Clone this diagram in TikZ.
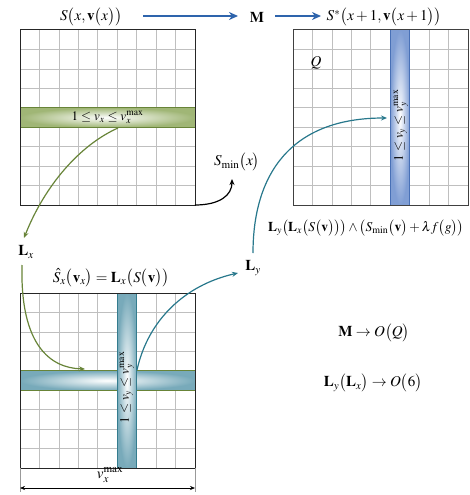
\documentclass[tikz,border=0pt]{standalone}
\usepackage{amsmath}
\usepackage{mathptmx}
\usetikzlibrary{arrows.meta}
\definecolor{gbord}{RGB}{104,132,56}
\definecolor{gfill}{RGB}{160,182,118}
\definecolor{bbord}{RGB}{72,112,182}
\definecolor{bfill}{RGB}{128,158,212}
\definecolor{tbord}{RGB}{52,124,142}
\definecolor{tfill}{RGB}{120,170,186}
\definecolor{arrblue}{RGB}{46,100,172}
\definecolor{arrgreen}{RGB}{104,132,56}
\definecolor{arrteal}{RGB}{40,120,140}
\tikzset{
  gridline/.style={draw=black!25, line width=0.7pt},
  frame/.style={draw=black!85, line width=1pt, minimum width=175pt, minimum height=175pt, inner sep=0pt, outer sep=0pt},
  lbl/.style={inner sep=0pt, font=\fontsize{15}{18}\selectfont},
  smalllbl/.style={inner sep=0pt, font=\fontsize{13}{16}\selectfont},
  hband/.style={minimum width=175pt, minimum height=19.44pt, inner sep=0pt, outer sep=0pt, line width=1pt},
  vband/.style={minimum width=19.44pt, minimum height=175pt, inner sep=0pt, outer sep=0pt, line width=1pt},
  greenband/.style={hband, draw=gbord, inner color=white, outer color=gfill},
  tealhband/.style={hband, draw=gbord, inner color=white, outer color=tfill},
  tealvband/.style={vband, draw=tbord, inner color=white, outer color=tfill},
  blueband/.style={vband, draw=bbord, inner color=white, outer color=bfill},
  bluearrow/.style={draw=arrblue, line width=2pt, -{Stealth[length=9pt,width=8pt]}},
  greenarrow/.style={draw=arrgreen, line width=1.2pt, -{Stealth[length=6pt,width=5pt]}},
  tealarrow/.style={draw=arrteal, line width=1.2pt, -{Stealth[length=6pt,width=5pt]}},
  blackarrow/.style={draw=black, line width=1.2pt, -{Stealth[length=6pt,width=5pt]}},
  dimline/.style={draw=black, line width=0.6pt, {Stealth[length=5pt,width=4pt]}-{Stealth[length=5pt,width=4pt]}},
  tick/.style={draw=black!40, line width=0.6pt}
}
\newcommand\mygridlines[2]{%
  \foreach \i in {1,...,8}{%
    \draw[gridline] ({#1+\i*175/9},#2) -- ({#1+\i*175/9},{#2+175});
    \draw[gridline] (#1,{#2+\i*175/9}) -- ({#1+175},{#2+\i*175/9});
  }}
\begin{document}
\begin{tikzpicture}[x=1pt,y=-1pt]
\useasboundingbox (0,0) rectangle (469,495);
% ---------- top-left grid
\mygridlines{20}{30}
\node[greenband] (B1) at (107.5,117.5) {};
\node[smalllbl] (B1t) at (B1) {$1\le v_x\le v_x^{\max}$};
\node[frame] (G1) at (107.5,117.5) {};
% ---------- top-right grid
\mygridlines{293}{30}
\node[blueband] (B2) at ({293+5.5*175/9},117.5) {};
\node[smalllbl, rotate=90, yshift=-1pt, xshift=-8pt] (B2t) at (B2) {$1\le v_y\le v_y^{\max}$};
\node[frame, draw=black!75] (G2) at (380.5,117.5) {};
\node[lbl] (Q) at (316,63) {$Q$};
% ---------- bottom-left grid
\mygridlines{20}{293}
\node[tealhband] (B3) at (107.5,{293+4.5*175/9}) {};
\node[tealvband] (B4) at ({20+5.5*175/9},380.5) {};
\node[smalllbl, rotate=90, xshift=-7pt] (B4t) at (B4) {$1\le v_y\le v_y^{\max}$};
\node[frame] (G3) at (107.5,380.5) {};
% ---------- top row labels
\node[lbl] (S) at (91,17) {$S\bigl(x,\mathbf{v}\bigl(x\bigr)\bigr)$};
\node[lbl] (M) at (257,17) {$\mathbf{M}$};
\node[lbl] (Sstar) at (384,17) {$S^{*}\bigl(x+1,\mathbf{v}\bigl(x+1\bigr)\bigr)$};
\coordinate (a1s) at (143,16);
\coordinate (a1e) at (238,16);
\coordinate (a2s) at (275,16);
\coordinate (a2e) at (321,16);
\draw[bluearrow] (a1s) -- (a1e);
\draw[bluearrow] (a2s) -- (a2e);
% ---------- S_min
\node[lbl] (Smin) at (237,162) {$S_{\min}\bigl(x\bigr)$};
\coordinate (smintip) at (232,179);
\draw[blackarrow] (G1.south east) .. controls (220,205) and (232,195) .. (smintip);
% ---------- Lx
\node[lbl] (Lx) at (26,252) {$\mathbf{L}_x$};
\coordinate (b1out) at (118,128);
\coordinate (lxtip) at (24,238);
\draw[greenarrow] (b1out) .. controls (80,145) and (45,185) .. (lxtip);
\coordinate (lxbot) at (22,265);
\coordinate (b3tip) at (85,369);
\draw[greenarrow] (lxbot) .. controls (20,345) and (50,368) .. (b3tip);
% ---------- Ly
\node[lbl] (Ly) at (253,268) {$\mathbf{L}_y$};
\coordinate (b4out) at (137,370);
\coordinate (lytip) at (238,273);
\draw[tealarrow] (b4out) .. controls (148,320) and (185,285) .. (lytip);
\coordinate (lytop) at (253,253);
\coordinate (b2tip) at (387,118);
\draw[tealarrow] (lytop) .. controls (253,175) and (290,118) .. (b2tip);
% ---------- formulas
\node[smalllbl, font=\fontsize{13.5}{16}\selectfont] (F1) at (366,228) {$\mathbf{L}_y\bigl(\mathbf{L}_x\bigl(S\bigl(\mathbf{v}\bigr)\bigr)\bigr)\wedge\bigl(S_{\min}\bigl(\mathbf{v}\bigr)+\lambda f\bigl(g\bigr)\bigr)$};
\node[lbl] (F2) at (111,278) {$\hat{S}_x\bigl(\mathbf{v}_x\bigr)=\mathbf{L}_x\bigl(S\bigl(\mathbf{v}\bigr)\bigr)$};
\node[lbl] (F3) at (374,333) {$\mathbf{M}\rightarrow O\bigl(Q\bigr)$};
\node[lbl] (F4) at (373,383) {$\mathbf{L}_y\bigl(\mathbf{L}_x\bigr)\rightarrow O\bigl(6\bigr)$};
% ---------- dimension
\coordinate (d1) at (20,488);
\coordinate (d2) at (195,488);
\draw[tick] (G3.south west) -- ++(0,24);
\draw[tick] (G3.south east) -- ++(0,24);
\draw[dimline] (d1) -- (d2);
\node[lbl] (vmax) at (110,475) {$v_x^{\max}$};
\end{tikzpicture}
\end{document}
